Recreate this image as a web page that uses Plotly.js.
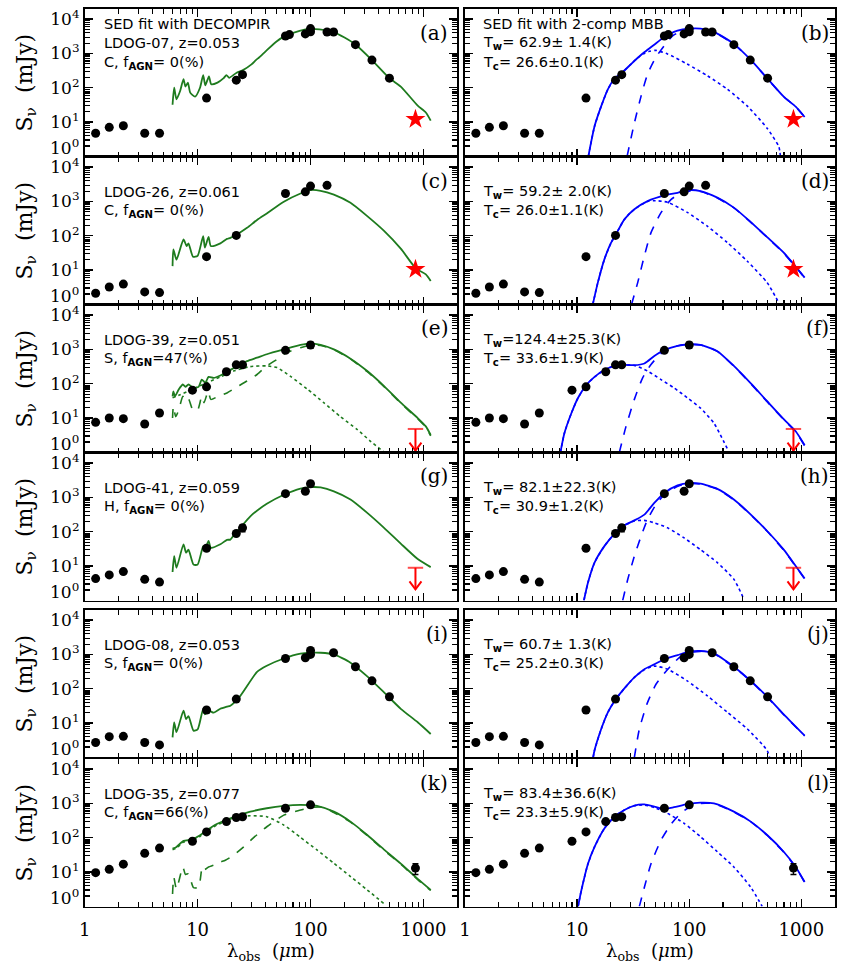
<!DOCTYPE html>
<html><head><meta charset="utf-8">
<script src="https://cdn.plot.ly/plotly-3.0.1.min.js"></script>
<style>html,body{margin:0;padding:0;background:#fff}#chart{width:845px;height:965px}</style>
</head><body><div id="chart"></div>
<script>
// ---------------- photometry (wavelength um, flux mJy) ----------------
const ldog07_wl = [1.25,1.65,2.2,3.4,4.6,12,22,25,60,65,90,100,100,140,160,250,350,500];
const ldog07_flux = [4.7,7.0,7.8,4.7,4.7,50,166,240,3230,3550,3700,5300,4300,4200,4200,1800,640,190];
const ldog07_err = [0,0,0,0,0,0,0,40,0,0,0,0,0,450,450,0,0,0];
const ldog07_s850 = 12;

const ldog26_wl = [1.25,1.65,2.2,3.4,4.6,12,22,60,90,100,140];
const ldog26_flux = [2.1,3.2,3.9,2.3,2.2,24.5,102,1700,1900,2800,2950];
const ldog26_err = [0,0,0,0,0,0,0,0,0,0,0];
const ldog26_s850 = 10.5;

const ldog39_wl = [1.25,1.65,2.2,3.4,4.6,9,12,18,22,25,60,100];
const ldog39_flux = [7.5,10,9.6,6.7,14,65,81,224,355,355,940,1350];
const ldog39_err = [0,0,0,0,0,0,0,0,0,0,0,280];
const ldog39_ul850 = 4.8;

const ldog41_wl = [1.25,1.65,2.2,3.4,4.6,12,22,25,60,90,100];
const ldog41_flux = [4.3,5.5,6.9,4.1,3.4,33,89,130,1290,1510,2510];
const ldog41_err = [0,0,0,0,0,0,0,30,0,0,0];
const ldog41_ul850 = 8.9;

const ldog08_wl = [1.25,1.65,2.2,3.4,4.6,12,22,60,90,100,100,160,250,350,500];
const ldog08_flux = [2.7,4.0,4.1,2.7,2.3,24,50,760,800,1000,1300,1120,436,170,58];
const ldog08_err = [0,0,0,0,0,4,0,0,0,0,0,0,0,0,10];

const ldog35_wl = [1.25,1.65,2.2,3.4,4.6,9,12,18,22,25,60,100,850];
const ldog35_flux = [9.6,12,17,35,50,79,148,295,390,410,724,910,13];
const ldog35_err = [0,0,0,0,0,0,0,0,0,0,0,150,4.5];

// ---------------- DECOMPIR model curves ----------------
const dec07_wl = [6.0,6.2,6.5,7.0,7.5,7.8,8.2,8.6,9.5,10.5,11.2,11.7,12.6,13.2,15,17,18,19,22,25,30,33,35,40,50,60,80,100,120,160,200,250,350,500,630,890,1050,1160];
const dec07_flux = [32,100,46,80,178,108,141,72,55,100,234,118,214,126,141,190,234,195,270,320,480,650,760,1150,2240,3240,4570,5200,5000,4200,2900,1820,640,190,108,30,19,11];

const dec26_wl = [6.0,6.1,6.5,7.5,8.0,8.3,9.1,10,11.2,11.6,12.5,13.1,15.9,18.2,19.5,22.4,27.4,33.6,41,58,81.5,100,123,161,226,318,448,630,860,1050,1160];
const dec26_flux = [13,40,20,78,50,60,24.5,26,98,45,93,50,60,81,87,110,170,288,447,980,1700,2140,2040,1580,910,372,138,42,11,7.5,4.8];

const dec39_wl = [6.0,6.1,6.3,6.8,7.4,7.8,8.3,9.2,10.2,10.9,11.7,12.5,13.9,15.9,18.2,22.4,27.4,33.6,41,58,81.5,100,123,161,226,318,448,630,890,1050,1160];
const dec39_flux = [43,60,43,68,95,81,95,76,81,132,107,158,148,174,219,330,457,575,724,1000,1350,1480,1350,1000,537,234,85,28,10,5.7,3.2];
const dec39_agn_wl = [6.0,7.0,9.2,12.1,15.9,20.8,29.3,41,50.5,66,93,131,184,260,340,450];
const dec39_agn_flux = [39,48,71,107,158,234,316,330,295,166,71,28,11,4.6,2.1,1.0];
const dec39_sb_wl = [6.0,6.1,6.4,6.8,7.4,7.8,8.3,9.1,10,10.9,11.4,12.4,13.1,15,18.2,21.6,27.4,33.6,41,50.5,60,81.5,100,123,161,226,318,448,630,890,1050,1160];
const dec39_sb_flux = [10,22,11,17,43,31,36,17,17,43,28,60,35,42,54,76,120,186,330,513,780,1120,1320,1300,980,520,225,82,27,9.5,5.4,3.0];

const dec41_wl = [6.0,6.2,6.5,7.5,7.9,8.3,9.2,10,11.2,11.6,12.5,13.1,15.9,18.2,19.5,21,23.9,29.3,41,58,81.5,100,123,161,226,318,448,630,890,1160];
const dec41_flux = [6.7,19.5,8.9,43,24.5,30,11,11,38,30,54,34,43,58,59,80,130,282,650,1200,1820,2000,1950,1510,870,355,130,45,16,9.3];

const dec08_wl = [6.0,6.2,6.5,7.5,7.9,8.3,9.2,10,11.2,11.6,12.5,13.9,15.9,18.2,19.5,23.9,33.6,41,58,81.5,100,123,161,226,318,448,630,890,1160];
const dec08_flux = [3.8,10.5,5.4,23,13,16,6.0,6.5,26,18,23,20,26,30,32,62,309,468,760,1050,1120,1120,1000,575,229,78,26,10.5,4.8];

const dec35_wl = [6.0,6.5,7.5,8.9,10.6,12.1,14.8,18.2,22.4,29.3,41,58,81.5,114,161,226,318,448,630,890,1160];
const dec35_flux = [48,54,81,89,120,166,251,339,436,575,724,850,910,850,575,295,120,45,17.5,6.3,3.0];
const dec35_agn_wl = [6.0,6.5,7.5,8.9,10.6,12.1,14.8,18.2,22.4,29.3,41,58,81.5,114,161,226,318,448];
const dec35_agn_flux = [45,50,75,83,112,155,235,318,410,436,410,234,102,44,18,7.4,3.0,1.2];
const dec35_sb_wl = [6.0,6.15,6.5,7.4,7.8,8.3,9.2,10.2,11.0,11.5,12.5,13.9,15.9,17.6,20.8,25.6,31.5,41,58,81.5,107,130,161,226,318,448,630,890,1160];
const dec35_sb_flux = [2.3,7.1,3.2,14,8.5,8.9,3.5,3.6,14,11.7,14,15.8,19.5,22,31,54,102,209,457,646,776,776,540,285,115,43,17,6.0,2.9];

// ---------------- two-component MBB curves ----------------
const mbb07_tot_wl = [12.6,14.3,16.4,18.8,21.6,25,30.3,35,39.7,44,48.7,60,78.6,100,126,166,250,354,495,696,890,1070];
const mbb07_tot_flux = [1.0,7.5,29,90,186,270,490,760,1080,1400,1800,3000,4600,5250,5250,4250,1900,645,190,55,28,14];
const mbb07_cold_wl = [27.9,32.4,37.2,42.5,50.5,60,71,84,100,126,166,250,354,495,696,890,1070];
const mbb07_cold_flux = [1.0,9.3,57,250,776,1700,3240,4400,5000,5100,4150,1870,635,188,54,28,13.8];
const mbb07_warm_wl = [12.6,14.3,16.4,18.8,21.6,25,30.3,35,39.7,44,50,64,96,145,219,330,495,630,650];
const mbb07_warm_flux = [1.0,7.5,29,90,186,270,490,760,1000,1150,1230,970,490,224,90,29,6.6,1.9,1.0];

const mbb26_tot_wl = [13.8,15.3,17.5,20.1,22.2,26.4,32.4,42.5,60,78.6,100,126,178,250,354,495,696,890,1070];
const mbb26_tot_flux = [1.0,4.3,20.5,63,110,300,590,1020,1500,1780,2140,2000,1290,660,250,91,32,12.6,6.0];
const mbb26_cold_wl = [30.6,34.7,39.8,45.6,56,69,84,100,126,178,250,354,495,696,890,1070];
const mbb26_cold_flux = [1.0,4.3,26,123,470,1150,1700,2000,1950,1260,650,245,90,31,12.3,5.9];
const mbb26_warm_wl = [13.8,15.3,17.5,20.1,22.2,26.4,32.4,42.5,50,64,96,145,219,330,495,630];
const mbb26_warm_flux = [1.0,4.3,20.5,63,110,300,590,1000,1050,950,480,190,63,18,4.3,1.1];

const mbb39_tot_wl = [7.1,7.7,8.9,10.2,12.0,14.3,17.5,21.5,26.4,32.4,39.8,48.8,60,78.6,100,126,178,250,354,495,696,890,1070];
const mbb39_tot_flux = [1.0,3.6,14,39,89,158,250,330,355,347,390,645,955,1260,1410,1350,890,330,102,31,9.3,4.1,1.6];
const mbb39_cold_wl = [23.8,27.3,32.4,38.4,45.6,56,69,84,100,126,178,250,354,495,696,890,1070];
const mbb39_cold_flux = [1.0,5.7,35,148,363,760,1120,1350,1400,1340,880,325,100,30,9.0,4.0,1.55];
const mbb39_warm_wl = [7.1,7.7,8.9,10.2,12.0,14.3,17.5,21.5,26.4,32.4,42.5,56,73,96,126,166,219];
const mbb39_warm_flux = [1.0,3.6,14,39,89,158,250,330,355,340,234,132,76,39,19.5,7.1,1.26];

const mbb41_tot_wl = [11.5,12.5,14.3,17.5,21.5,25.5,32.4,39.8,48.8,60,78.6,100,126,178,250,354,495,696,890,1070];
const mbb41_tot_flux = [1.0,3.3,12.6,38,87,145,214,316,690,1350,2240,2630,2510,1780,870,316,105,30,10,4.3];
const mbb41_cold_wl = [25.5,28.3,32.4,37.2,42.5,50.5,60,73,90,100,126,178,250,354,495,696,890,1070];
const mbb41_cold_flux = [1.0,4.1,19.5,74,229,620,1200,1860,2450,2550,2450,1740,850,310,103,29,9.8,4.2];
const mbb41_warm_wl = [11.5,12.5,14.3,17.5,21.5,25.5,32.4,39.8,48.8,64,90,126,178,250,308];
const mbb41_warm_flux = [1.0,3.3,12.6,38,87,145,205,214,182,130,66,30,12.6,4.1,1.07];

const mbb08_tot_wl = [13.9,14.3,16.4,18.8,22.2,26.4,32.4,39.8,48.8,60,78.6,100,126,166,250,354,495,696,1070];
const mbb08_tot_flux = [1.0,1.6,6.7,20.5,50,102,214,372,513,724,955,1200,1260,1070,436,170,59,18,4.3];
const mbb08_cold_wl = [32.4,35.9,42.5,50.5,60,73,84,100,126,166,250,354,495,696,1070];
const mbb08_cold_flux = [1.0,6.7,40,135,282,575,870,1120,1220,1040,425,166,57,17.5,4.2];
const mbb08_warm_wl = [13.9,14.3,16.4,18.8,22.2,26.4,32.4,39.8,48.8,64,96,145,219,330,495,520];
const mbb08_warm_flux = [1.0,1.6,6.7,20.5,50,102,214,360,457,372,170,62,20.5,6.7,1.6,1.0];

const mbb35_tot_wl = [10.2,10.9,12.5,14.3,17.5,21.5,26.4,32.4,39.8,48.8,60,73,96,126,166,250,354,495,696,890,1070];
const mbb35_tot_flux = [1.0,2.9,17.5,54,186,410,646,870,933,813,692,776,955,1050,1000,575,295,120,39,14,5.1];
const mbb35_cold_wl = [35.9,39.8,45.6,56,69,84,100,126,166,250,354,495,696,890,1070];
const mbb35_cold_flux = [1.0,3.6,17.5,85,251,513,776,1000,980,565,290,118,38,13.7,5.0];
const mbb35_warm_wl = [10.2,10.9,12.5,14.3,17.5,21.5,26.4,32.4,39.8,48.8,64,90,126,178,250,354,447];
const mbb35_warm_flux = [1.0,2.9,17.5,54,186,410,646,860,900,760,513,263,107,39,14,3.6,1.0];

// ---------------- labels ----------------
const xTickVals = [1,10,100,1000];
const xTickText = ['1','10','100','1000'];
const yTickVals = [1,10,100,1000,10000];
const yTickText = ['','10<sup>1</sup>','10<sup>2</sup>','10<sup>3</sup>','10<sup>4</sup>'];
const panelLetters = [['(a)','(b)'],['(c)','(d)'],['(e)','(f)'],['(g)','(h)'],['(i)','(j)'],['(k)','(l)']];
const NB = '\u00a0';
const leftText = [
  ['SED fit with DECOMPIR','LDOG-07, z=0.053','C, f<sub><b>AGN</b></sub>='+NB+'0(%)'],
  [null,'LDOG-26, z=0.061','C, f<sub><b>AGN</b></sub>='+NB+'0(%)'],
  [null,'LDOG-39, z=0.051','S, f<sub><b>AGN</b></sub>=47(%)'],
  [null,'LDOG-41, z=0.059','H, f<sub><b>AGN</b></sub>='+NB+'0(%)'],
  [null,'LDOG-08, z=0.053','S, f<sub><b>AGN</b></sub>='+NB+'0(%)'],
  [null,'LDOG-35, z=0.077','C, f<sub><b>AGN</b></sub>=66(%)']
];
const rightText = [
  ['SED fit with 2-comp MBB','T<sub><b>w</b></sub>='+NB+'62.9±'+NB+'1.4(K)','T<sub><b>c</b></sub>='+NB+'26.6±0.1(K)'],
  [null,'T<sub><b>w</b></sub>='+NB+'59.2±'+NB+'2.0(K)','T<sub><b>c</b></sub>='+NB+'26.0±1.1(K)'],
  [null,'T<sub><b>w</b></sub>=124.4±25.3(K)','T<sub><b>c</b></sub>='+NB+'33.6±1.9(K)'],
  [null,'T<sub><b>w</b></sub>='+NB+'82.1±22.3(K)','T<sub><b>c</b></sub>='+NB+'30.9±1.2(K)'],
  [null,'T<sub><b>w</b></sub>='+NB+'60.7±'+NB+'1.3(K)','T<sub><b>c</b></sub>='+NB+'25.2±0.3(K)'],
  [null,'T<sub><b>w</b></sub>='+NB+'83.4±36.6(K)','T<sub><b>c</b></sub>='+NB+'23.3±5.9(K)']
];

// ---------------- rows: which data go where ----------------
const rows = [
  {wl:ldog07_wl, f:ldog07_flux, err:ldog07_err, star:ldog07_s850, ul:null,
   dec:[dec07_wl,dec07_flux], agn:null, sb:null,
   tot:[mbb07_tot_wl,mbb07_tot_flux], cold:[mbb07_cold_wl,mbb07_cold_flux], warm:[mbb07_warm_wl,mbb07_warm_flux]},
  {wl:ldog26_wl, f:ldog26_flux, err:ldog26_err, star:ldog26_s850, ul:null,
   dec:[dec26_wl,dec26_flux], agn:null, sb:null,
   tot:[mbb26_tot_wl,mbb26_tot_flux], cold:[mbb26_cold_wl,mbb26_cold_flux], warm:[mbb26_warm_wl,mbb26_warm_flux]},
  {wl:ldog39_wl, f:ldog39_flux, err:ldog39_err, star:null, ul:ldog39_ul850,
   dec:[dec39_wl,dec39_flux], agn:[dec39_agn_wl,dec39_agn_flux], sb:[dec39_sb_wl,dec39_sb_flux],
   tot:[mbb39_tot_wl,mbb39_tot_flux], cold:[mbb39_cold_wl,mbb39_cold_flux], warm:[mbb39_warm_wl,mbb39_warm_flux]},
  {wl:ldog41_wl, f:ldog41_flux, err:ldog41_err, star:null, ul:ldog41_ul850,
   dec:[dec41_wl,dec41_flux], agn:null, sb:null,
   tot:[mbb41_tot_wl,mbb41_tot_flux], cold:[mbb41_cold_wl,mbb41_cold_flux], warm:[mbb41_warm_wl,mbb41_warm_flux]},
  {wl:ldog08_wl, f:ldog08_flux, err:ldog08_err, star:null, ul:null,
   dec:[dec08_wl,dec08_flux], agn:null, sb:null,
   tot:[mbb08_tot_wl,mbb08_tot_flux], cold:[mbb08_cold_wl,mbb08_cold_flux], warm:[mbb08_warm_wl,mbb08_warm_flux]},
  {wl:ldog35_wl, f:ldog35_flux, err:ldog35_err, star:null, ul:null,
   dec:[dec35_wl,dec35_flux], agn:[dec35_agn_wl,dec35_agn_flux], sb:[dec35_sb_wl,dec35_sb_flux],
   tot:[mbb35_tot_wl,mbb35_tot_flux], cold:[mbb35_cold_wl,mbb35_cold_flux], warm:[mbb35_warm_wl,mbb35_warm_flux]}
];
const ulWave = 850;

// ---------------- layout geometry ----------------
const W = 845, H = 965;
const rowTop = [8.5, 156.5, 304.5, 452.5, 609.5, 758.5];
const rowH = 148;
const colL = [84.7, 465], colR = [457.3, 835];
const GREEN = '#1e7b1e', BLUE = '#0000ff', RED = '#ff0000';
const SERIF = 'DejaVu Serif', SANS = 'DejaVu Sans';

// minor tick positions (2..9 x 10^d)
const minorTicks = [];
for (let d = 0; d <= 4; d++) for (let k = 2; k <= 9; k++) minorTicks.push(k * Math.pow(10, d));

const layout = {width:W, height:H, margin:{l:0,r:0,t:0,b:0}, showlegend:false,
  paper_bgcolor:'#ffffff', plot_bgcolor:'#ffffff', annotations:[]};
const traces = [];
const suf = p => (p === 0 ? '' : String(p + 1));
const px = v => v / W, py = v => 1 - v / H;

function line(p, xy, color, dash, width) {
  traces.push({type:'scatter', mode:'lines', x:xy[0], y:xy[1], xaxis:'x'+suf(p), yaxis:'y'+suf(p),
    line:{color:color, dash:dash, width:width, shape:'spline', smoothing:0.6}, hoverinfo:'skip'});
}
function points(p, R) {
  traces.push({type:'scatter', mode:'markers', x:R.wl, y:R.f, xaxis:'x'+suf(p), yaxis:'y'+suf(p),
    marker:{color:'#000', size:9, symbol:'circle'},
    error_y:{type:'data', array:R.err, visible:true, color:'#000', thickness:1.4, width:3}});
  if (R.star !== null) {
    traces.push({type:'scatter', mode:'markers', x:[ulWave], y:[R.star], xaxis:'x'+suf(p), yaxis:'y'+suf(p),
      marker:{color:RED, size:15, symbol:'star', line:{width:0}}});
  }
  if (R.ul !== null) {
    const tip = R.ul / Math.pow(10, 0.63);
    traces.push({type:'scatter', mode:'lines+markers', x:[ulWave, ulWave], y:[R.ul, tip], xaxis:'x'+suf(p), yaxis:'y'+suf(p),
      line:{color:RED, width:2}, marker:{symbol:['line-ew','circle'], size:[11,0], color:RED, line:{color:RED, width:2}}});
    traces.push({type:'scatter', mode:'lines', x:[ulWave/1.13, ulWave, ulWave*1.13], y:[tip*1.7, tip, tip*1.7],
      xaxis:'x'+suf(p), yaxis:'y'+suf(p), line:{color:RED, width:2}});
  }
}
function addText(x, y, text, font, anchor, extra) {
  layout.annotations.push(Object.assign({xref:'paper', yref:'paper', x:px(x), y:py(y), text:text,
    showarrow:false, xanchor:anchor, yanchor:'middle', font:font}, extra || {}));
}

for (let r = 0; r < 6; r++) {
  for (let c = 0; c < 2; c++) {
    const p = r * 2 + c;
    const common = {type:'log', showline:true, linecolor:'#000', linewidth:1.8, mirror:'allticks',
      ticks:'inside', ticklen:8, tickwidth:1.4, tickcolor:'#000', showgrid:false, zeroline:false,
      tickfont:{family:SERIF, size:17, color:'#000'}, tickmode:'array',
      minor:{ticks:'inside', ticklen:5, tickwidth:1.1, tickcolor:'#000', tickmode:'array', tickvals:minorTicks, showgrid:false}};
    layout['xaxis'+suf(p)] = Object.assign({}, common, {range:[0, 3.3], domain:[px(colL[c]), px(colR[c])],
      anchor:'y'+suf(p), tickvals:xTickVals, ticktext:xTickText, showticklabels:r === 5, ticklabelstandoff:6,
      tickfont:{family:SERIF, size:18, color:'#000'}});
    layout['yaxis'+suf(p)] = Object.assign({}, common, {range:[-0.005, 4.31],
      domain:[py(rowTop[r] + rowH), py(rowTop[r])], anchor:'x'+suf(p),
      tickvals:yTickVals, ticktext:yTickText, showticklabels:c === 0});

    const R = rows[r];
    if (c === 0) {
      if (R.agn) line(p, R.agn, GREEN, 'dot', 1.6);
      if (R.sb) line(p, R.sb, GREEN, 'dash', 1.6);
      line(p, R.dec, GREEN, 'solid', 1.8);
    } else {
      line(p, R.warm, BLUE, 'dot', 1.6);
      line(p, R.cold, BLUE, 'dash', 1.6);
      line(p, R.tot, BLUE, 'solid', 1.8);
    }
    points(p, R);

    // panel letter
    addText(colR[c] - (c === 0 ? 7 : 4), rowTop[r] + 24, panelLetters[r][c], {family:SERIF, size:20, color:'#000'}, 'right');
    // in-panel text
    const T = c === 0 ? leftText[r] : rightText[r];
    const tx = c === 0 ? 102 : 481;
    const offs = [15, 35, 54.5];
    for (let k = 0; k < 3; k++) {
      if (T[k]) addText(tx, rowTop[r] + offs[k], T[k], {family:SANS, size:14.5, color:'#000'}, 'left');
    }
  }
  // 10^0 label (shifted up as in reference)
  addText(81, rowTop[r] + rowH - 10, '10<sup>0</sup>', {family:SERIF, size:17, color:'#000'}, 'right');
  // y title
  addText(26, rowTop[r] + rowH / 2, 'S<sub>ν</sub>'+NB+NB+'(mJy)', {family:SERIF, size:22, color:'#000'}, 'center', {textangle:-90});
}
// x titles
addText((colL[0] + colR[0]) / 2, 965, 'λ<sub>obs</sub>'+NB+NB+'(<i>μ</i>m)', {family:SERIF, size:18, color:'#000'}, 'center', {yanchor:'bottom', borderpad:0});
addText((colL[1] + colR[1]) / 2, 965, 'λ<sub>obs</sub>'+NB+NB+'(<i>μ</i>m)', {family:SERIF, size:18, color:'#000'}, 'center', {yanchor:'bottom', borderpad:0});

Plotly.newPlot('chart', traces, layout, {staticPlot:true, displayModeBar:false});
</script></body></html>
